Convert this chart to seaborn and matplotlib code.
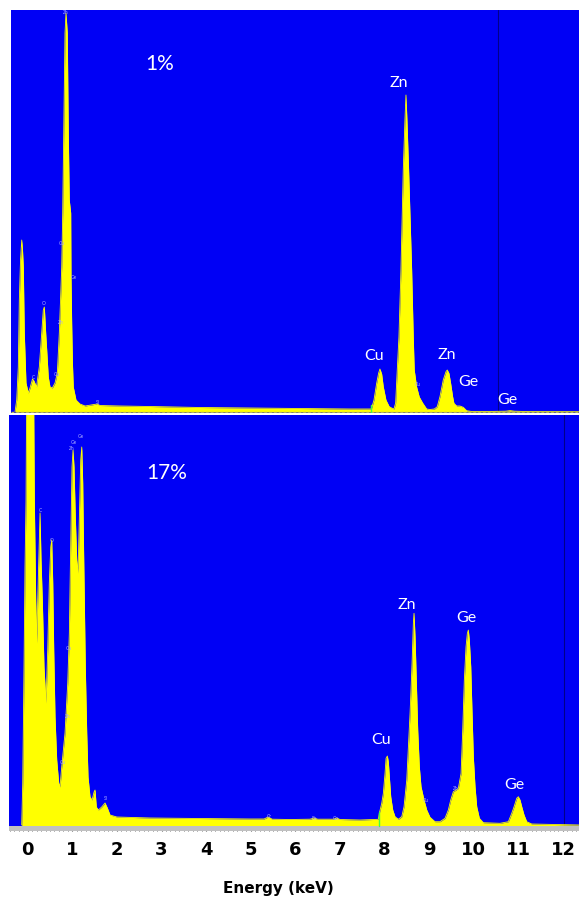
import matplotlib
matplotlib.use("Agg")
import matplotlib.pyplot as plt
import pandas as pd
import seaborn as sns

# ---- EDS spectrum, 1% sample (energy in keV, counts) ----
top_energy = [-0.126, -0.088, -0.052, -0.029, -0.002, 0.025, 0.043, 0.061, 0.083, 0.121,
              0.173, 0.211, 0.267, 0.301, 0.357, 0.420, 0.474, 0.510, 0.533, 0.564,
              0.587, 0.622, 0.661, 0.712, 0.773, 0.825, 0.870, 0.924, 0.946, 0.969,
              0.998, 1.020, 1.049, 1.072, 1.094, 1.126, 1.133, 1.148, 1.165, 1.184,
              1.245, 1.335, 1.449, 1.717, 1.784, 2.234, 2.908, 4.03, 5.155, 6.28,
              7.40, 7.875, 7.890, 7.942, 8.002, 8.047, 8.076, 8.115, 8.151, 8.211,
              8.285, 8.339, 8.391, 8.429, 8.465, 8.503, 8.548, 8.600, 8.638, 8.661,
              8.683, 8.721, 8.789, 8.825, 8.847, 8.901, 8.960, 9.036, 9.126, 9.200,
              9.300, 9.364, 9.425, 9.499, 9.560, 9.589, 9.627, 9.665, 9.710, 9.739,
              9.800, 9.874, 9.948, 10.025, 10.137, 10.50, 10.90, 11.00, 11.10, 11.40,
              12.60]
top_counts = [0, 120, 450, 1120, 1520, 1720, 1620, 1450, 790, 290,
              190, 240, 330, 310, 250, 450, 790, 1020, 1050, 790,
              620, 350, 250, 240, 290, 390, 790, 1450, 1990, 2790,
              3790, 3990, 3790, 2790, 2120, 1990, 1350, 890, 490, 250,
              120, 80, 60, 80, 65, 60, 55, 45, 40, 35,
              30, 30, 40, 120, 287, 390, 430, 380, 253, 120,
              53, 40, 30, 90, 420, 750, 1420, 2420, 2920, 3170,
              2920, 2420, 1420, 750, 420, 250, 150, 90, 30, 25,
              30, 53, 153, 320, 403, 420, 387, 287, 153, 87,
              60, 60, 47, 13, 5, 5, 8, 14, 8, 4,
              3]

# ---- EDS spectrum, 17% sample ----
bottom_energy = [-0.135, -0.112, -0.099, -0.083, -0.061, -0.038, -0.022, 0.018, 0.130, 0.148,
                 0.164, 0.179, 0.202, 0.224, 0.247, 0.276, 0.298, 0.327, 0.365, 0.410,
                 0.448, 0.484, 0.516, 0.538, 0.561, 0.583, 0.612, 0.650, 0.695, 0.724,
                 0.762, 0.836, 0.897, 0.933, 0.964, 0.993, 1.016, 1.038, 1.067, 1.099,
                 1.128, 1.157, 1.188, 1.211, 1.233, 1.247, 1.269, 1.291, 1.323, 1.352,
                 1.397, 1.442, 1.487, 1.509, 1.538, 1.583, 1.659, 1.733, 1.785, 1.845,
                 1.996, 2.74, 3.86, 4.98, 5.30, 5.39, 5.48, 5.88, 6.33, 6.42,
                 6.50, 6.85, 6.93, 7.00, 7.45, 7.861, 7.883, 7.937, 7.973, 8.011,
                 8.034, 8.063, 8.085, 8.108, 8.139, 8.184, 8.235, 8.309, 8.386, 8.437,
                 8.498, 8.543, 8.572, 8.617, 8.646, 8.661, 8.684, 8.706, 8.744, 8.780,
                 8.818, 8.885, 8.946, 9.020, 9.132, 9.244, 9.356, 9.430, 9.484, 9.543,
                 9.603, 9.655, 9.716, 9.753, 9.789, 9.827, 9.857, 9.879, 9.901, 9.933,
                 9.962, 9.991, 10.029, 10.067, 10.126, 10.215, 10.590, 10.776, 10.852, 10.904,
                 10.964, 11.000, 11.038, 11.076, 11.128, 11.188, 11.300, 12.31, 12.40]
bottom_counts = [10, 430, 930, 1590, 2590, 3260, 4500, 6000, 4500, 3260,
                 2760, 2260, 1830, 2260, 2660, 3130, 2660, 2260, 1590, 1230,
                 1760, 2430, 2790, 2860, 2430, 1760, 1090, 660, 430, 390,
                 590, 930, 1430, 1930, 2830, 3590, 3760, 3590, 3090, 2660,
                 2530, 3090, 3660, 3790, 3430, 2930, 2260, 1590, 930, 490,
                 290, 260, 340, 360, 190, 160, 190, 230, 180, 110,
                 90, 80, 75, 70, 70, 90, 68, 65, 68, 80,
                 68, 68, 80, 65, 60, 67, 127, 227, 327, 527,
                 677, 700, 643, 493, 293, 160, 93, 67, 93, 193,
                 460, 860, 1127, 1627, 2027, 2127, 1893, 1560, 960, 593,
                 393, 260, 160, 87, 43, 43, 77, 160, 260, 343,
                 360, 377, 527, 960, 1460, 1793, 1927, 1960, 1860, 1593,
                 1127, 693, 393, 193, 77, 33, 27, 43, 127, 193,
                 277, 293, 260, 193, 110, 43, 20, 10, 10]

# ---- peak annotations ----
top_peak_labels = ["Cu", "Zn", "Zn", "Ge", "Ge"]
top_peak_energy = [7.95, 8.51, 9.575, 10.06, 10.94]
top_peak_counts = [560, 3290, 570, 303, 120]

bottom_peak_labels = ["Cu", "Zn", "Ge", "Ge"]
bottom_peak_energy = [7.92, 8.51, 9.83, 10.90]
bottom_peak_counts = [860, 2210, 2077, 410]

# small line markers written by the acquisition software
top_marker_labels = ["Zn", "C", "O", "Cu", "Ge", "Zn", "Cu", "Si", "Cu"]
top_marker_energy = [1.02, 0.279, 0.526, 0.93, 1.20, 0.908, 0.818, 1.739, 8.93]
top_marker_counts = [3990, 340, 1080, 1680, 1340, 890, 370, 90, 270]

bottom_marker_labels = ["C", "O", "Zn", "Ge", "Ge", "Cu", "Zn", "Cu", "Si",
                        "Cr", "Fe", "Co", "Cu", "Zn"]
bottom_marker_energy = [0.276, 0.545, 0.993, 1.04, 1.195, 0.926, 0.904, 0.79, 1.755,
                        5.41, 6.42, 6.91, 8.93, 9.59]
bottom_marker_counts = [3150, 2850, 3770, 3830, 3890, 1770, 1100, 630, 270,
                        90, 80, 80, 250, 370]

sample_labels = ["1%", "17%"]
sample_energy = [3.13, 3.12]
sample_counts = [3480, 3530]

tick_values = list(range(13))
x_label = "Energy (keV)"

BLUE = "#0000f5"
YELLOW = "#ffff00"

sns.set_theme(style="white")
plt.rcParams["font.family"] = ["Lato", "DejaVu Sans"]

W, H = 579, 901
fig = plt.figure(figsize=(W / 100, H / 100), dpi=100)
fig.patch.set_facecolor("white")

ax_top = fig.add_axes([11 / W, 1 - 413 / H, 568 / W, 403 / H])
ax_bot = fig.add_axes([9 / W, 1 - 831 / H, 570 / W, 416 / H])


def draw_spectrum(ax, energy, counts):
    df = pd.DataFrame({"energy": energy, "counts": counts})
    ax.set_facecolor(BLUE)
    ax.fill_between(df["energy"], 0, df["counts"], color=YELLOW, lw=0, zorder=2)
    sns.lineplot(data=df, x="energy", y="counts", ax=ax, color=YELLOW,
                 lw=0.6, estimator=None, sort=False, zorder=3)
    for s in ax.spines.values():
        s.set_visible(False)
    ax.set_xlabel("")
    ax.set_ylabel("")
    ax.set_yticks([])


draw_spectrum(ax_top, top_energy, top_counts)
draw_spectrum(ax_bot, bottom_energy, bottom_counts)

# top panel
ax_top.set_xlim(-0.216, 12.55)
ax_top.set_ylim(-10, 4020)
ax_top.set_xticks([])
ax_top.axhline(-4, color="#b8b860", lw=1.0, ls=(0, (2, 1.5)), zorder=4)
ax_top.axvline(10.72, color="#00008a", lw=0.8, zorder=1)
ax_top.plot([7.874, 7.874], [-10, 70], color="#40ff40", lw=1, zorder=5)

# bottom panel with the energy ruler
ax_bot.set_xlim(-0.42, 12.36)
ax_bot.set_ylim(-50, 4110)
ax_bot.axhspan(-50, 0, color="#c0c0c0", lw=0, zorder=4)
ax_bot.axvline(12.02, color="#00008a", lw=0.8, zorder=1)
ax_bot.plot([7.877, 7.877], [0, 140], color="#40ff40", lw=1, zorder=5)
ax_bot.set_xticks(tick_values)
ax_bot.set_xticks([t / 10 for t in range(-4, 124)], minor=True)
ax_bot.tick_params(axis="x", which="major", direction="in", length=3.5, width=0.8,
                   color="#404040", pad=7, labelsize=13, bottom=True)
ax_bot.tick_params(axis="x", which="minor", direction="in", length=2.2, width=0.6,
                   color="#505050", bottom=True)
for lab in ax_bot.get_xticklabels():
    lab.set_fontfamily("DejaVu Sans")
    lab.set_fontweight("bold")
    lab.set_color("black")
for t in ax_bot.xaxis.get_major_ticks() + ax_bot.xaxis.get_minor_ticks():
    t.tick1line.set_zorder(6)
ax_bot.set_axisbelow(False)

# annotations
for ax, labels, ex, cy in [(ax_top, top_peak_labels, top_peak_energy, top_peak_counts),
                           (ax_bot, bottom_peak_labels, bottom_peak_energy, bottom_peak_counts)]:
    for lab, e, c in zip(labels, ex, cy):
        ax.text(e, c, lab, color="white", fontsize=11.5, ha="center", va="center", zorder=6)

for ax, labels, ex, cy in [(ax_top, top_marker_labels, top_marker_energy, top_marker_counts),
                           (ax_bot, bottom_marker_labels, bottom_marker_energy, bottom_marker_counts)]:
    for lab, e, c in zip(labels, ex, cy):
        ax.text(e, c, lab, color="#a8a8ff", fontsize=3.5, ha="center", va="center", zorder=6)

for ax, lab, e, c in zip([ax_top, ax_bot], sample_labels, sample_energy, sample_counts):
    ax.text(e, c, lab, color="white", fontsize=15, ha="center", va="center", zorder=6)

fig.text(278 / W, 1 - 888 / H, x_label, ha="center", va="center", fontsize=11,
         fontweight="bold", family="DejaVu Sans", color="black")

fig.savefig("out.png", dpi=100, facecolor="white")
